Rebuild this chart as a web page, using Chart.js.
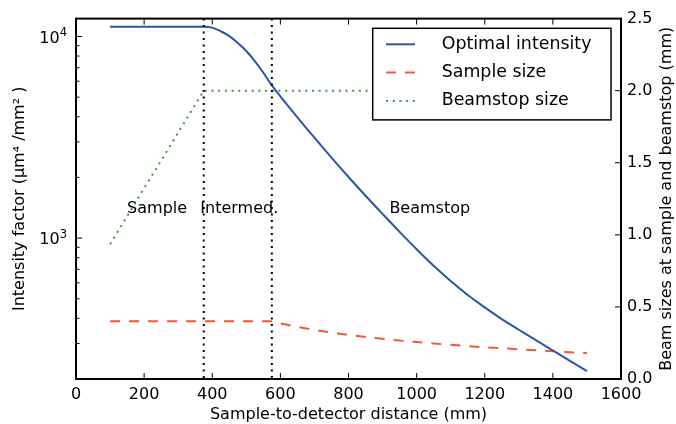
<!DOCTYPE html>
<html>
<head>
<meta charset="utf-8">
<script src="https://cdn.jsdelivr.net/npm/chart.js@4.4.0/dist/chart.umd.min.js"></script>
<style>
  html, body { margin: 0; padding: 0; background: #fff; }
  #wrap { width: 676px; height: 424px; }
</style>
</head>
<body>
<div id="wrap"><canvas id="chart" width="676" height="424"></canvas></div>
<script>
// ---------- Data ----------
const distances = [100, 150, 200, 250, 300, 350, 375, 400, 425, 450, 475, 500, 525, 550, 575, 600,
  650, 700, 750, 800, 850, 900, 950, 1000, 1050, 1100, 1150, 1200, 1250, 1300, 1350, 1400, 1450, 1500];
const intensity = [11170, 11170, 11170, 11170, 11170, 11170, 11170, 11066, 10617, 10046, 9290, 8472, 7551, 6607, 5728, 5047,
  3972, 3148, 2506, 2009, 1622, 1318, 1074, 881, 729, 612, 522, 453, 396, 351, 312, 277, 246, 219];
const sampleSize = [0.40, 0.40, 0.40, 0.40, 0.40, 0.40, 0.40, 0.40, 0.40, 0.40, 0.40, 0.40, 0.40, 0.40, 0.40, 0.386,
  0.362, 0.341, 0.322, 0.306, 0.292, 0.279, 0.267, 0.256, 0.246, 0.237, 0.228, 0.220, 0.213, 0.206, 0.199, 0.192, 0.186, 0.180];
const beamstopX = [100, 375, 1500];
const beamstopSize = [0.935, 2.0, 2.0];
const regionEdges = [375, 575];
const regionNames = ["Sample", "Intermed.", "Beamstop"];
const regionNameX = [150, 365, 920];
const regionNameLevel = 1.154; // on the right axis
const intensityTicks = [200, 300, 400, 500, 600, 700, 800, 900, 1000,
  2000, 3000, 4000, 5000, 6000, 7000, 8000, 9000, 10000];
const intensityLabels = { 1000: ["10", "3"], 10000: ["10", "4"] };

const FONT = "DejaVu Sans";
const BLUE = "#2b55a8", RED = "#ee5a36", GREEN = "#3f9a3f";

function pts(xs, ys) {
  return xs.map((x, i) => ({ x, y: ys[i] }));
}

// ---------- Extras: inward ticks, frame, guides, labels, legend ----------
const extras = {
  id: "extras",
  afterDatasetsDraw(chart) {
    const { ctx, chartArea: a, scales } = chart;
    const x = scales.x, yl = scales.y, yr = scales.y2;
    ctx.save();

    // region boundaries
    ctx.strokeStyle = "#000";
    ctx.lineWidth = 2;
    ctx.setLineDash([2, 4.5]);
    regionEdges.forEach((v) => {
      const px = x.getPixelForValue(v);
      ctx.beginPath();
      ctx.moveTo(px, a.top);
      ctx.lineTo(px, a.bottom);
      ctx.stroke();
    });
    ctx.setLineDash([]);

    // region names
    ctx.fillStyle = "#000";
    ctx.font = "16px '" + FONT + "'";
    ctx.textAlign = "left";
    ctx.textBaseline = "alphabetic";
    regionNames.forEach((t, i) => {
      ctx.fillText(t, x.getPixelForValue(regionNameX[i]), yr.getPixelForValue(regionNameLevel));
    });

    // log-axis labels as 10 with a raised exponent
    yl.ticks.forEach((t) => {
      const lab = intensityLabels[t.value];
      if (!lab) return;
      const py = yl.getPixelForValue(t.value);
      const right = a.left - 9;
      ctx.font = "11.5px '" + FONT + "'";
      const ew = ctx.measureText(lab[1]).width;
      ctx.textAlign = "right";
      ctx.fillText(lab[1], right, py - 0.5);
      ctx.font = "16px '" + FONT + "'";
      ctx.fillText(lab[0], right - ew, py + 6);
    });
    ctx.textAlign = "left";

    // inward tick marks
    ctx.lineWidth = 1;
    ctx.beginPath();
    x.ticks.forEach((t) => {
      const px = x.getPixelForValue(t.value);
      ctx.moveTo(px, a.bottom); ctx.lineTo(px, a.bottom - 6);
      ctx.moveTo(px, a.top); ctx.lineTo(px, a.top + 6);
    });
    yl.ticks.forEach((t) => {
      const py = yl.getPixelForValue(t.value);
      const len = intensityLabels[t.value] ? 6 : 3.5;
      ctx.moveTo(a.left, py); ctx.lineTo(a.left + len, py);
    });
    yr.ticks.forEach((t) => {
      const py = yr.getPixelForValue(t.value);
      ctx.moveTo(a.right, py); ctx.lineTo(a.right - 6, py);
    });
    ctx.stroke();

    // frame
    ctx.lineWidth = 2;
    ctx.strokeRect(a.left, a.top, a.right - a.left, a.bottom - a.top);

    // right axis title (reads bottom to top)
    ctx.save();
    ctx.translate(667, (a.top + a.bottom) / 2);
    ctx.rotate(-Math.PI / 2);
    ctx.textAlign = "center";
    ctx.textBaseline = "middle";
    ctx.font = "16px '" + FONT + "'";
    ctx.fillText("Beam sizes at sample and beamstop (mm)", 0, 0);
    ctx.restore();

    // legend (upper right)
    const bx = a.right - 248.3, by = a.top + 9.7, bw = 238.3, bh = 91.6;
    ctx.fillStyle = "#fff";
    ctx.fillRect(bx, by, bw, bh);
    ctx.strokeStyle = "#000";
    ctx.lineWidth = 1.5;
    ctx.strokeRect(bx, by, bw, bh);
    ctx.font = "17.4px '" + FONT + "'";
    ctx.textBaseline = "middle";
    chart.data.datasets.forEach((ds, i) => {
      const cy = by + 16 + i * 28.3;
      ctx.strokeStyle = ds.borderColor;
      ctx.lineWidth = ds.borderWidth;
      ctx.setLineDash(ds.borderDash || []);
      ctx.beginPath();
      ctx.moveTo(bx + 13.3, cy);
      ctx.lineTo(bx + 42.3, cy);
      ctx.stroke();
      ctx.setLineDash([]);
      ctx.fillStyle = "#000";
      ctx.fillText(ds.label, bx + 69, cy);
    });
    ctx.restore();
  },
};

new Chart(document.getElementById("chart"), {
  type: "line",
  data: {
    datasets: [
      {
        label: "Optimal intensity",
        data: pts(distances, intensity),
        yAxisID: "y",
        borderColor: BLUE,
        borderWidth: 2,
        cubicInterpolationMode: "monotone",
      },
      {
        label: "Sample size",
        data: pts(distances, sampleSize),
        yAxisID: "y2",
        borderColor: RED,
        borderWidth: 2,
        borderDash: [10, 9],
      },
      {
        label: "Beamstop size",
        data: pts(beamstopX, beamstopSize),
        yAxisID: "y2",
        borderColor: GREEN,
        borderWidth: 2,
        borderDash: [2, 4.7],
      },
    ],
  },
  options: {
    responsive: false,
    animation: false,
    events: [],
    elements: { point: { radius: 0 } },
    layout: { padding: { top: 16, left: 0, right: 0, bottom: 0 } },
    plugins: { legend: { display: false }, tooltip: { enabled: false } },
    scales: {
      x: {
        type: "linear",
        min: 0,
        max: 1600,
        grid: { display: false, drawTicks: false },
        border: { display: false },
        ticks: {
          stepSize: 200,
          autoSkip: false,
          maxRotation: 0,
          padding: 6,
          color: "#000",
          font: { family: FONT, size: 16 },
          callback: (v) => String(v),
        },
        title: {
          display: true,
          text: "Sample-to-detector distance (mm)",
          color: "#000",
          font: { family: FONT, size: 16 },
          padding: { top: 0, bottom: 0 },
        },
        afterFit(s) { s.height = 45; },
      },
      y: {
        type: "logarithmic",
        position: "left",
        min: 200,
        max: 12270,
        grid: { display: false, drawTicks: false },
        border: { display: false },
        afterBuildTicks(s) { s.ticks = intensityTicks.map((v) => ({ value: v })); },
        ticks: {
          autoSkip: false,
          padding: 9,
          color: "#000",
          font: { family: FONT, size: 16 },
          callback: () => "",
        },
        title: {
          display: true,
          text: "Intensity factor (μm⁴ /mm² )",
          color: "#000",
          font: { family: FONT, size: 16 },
          padding: { top: 10.6, bottom: 0 },
        },
        afterFit(s) { s.width = 76; },
      },
      y2: {
        type: "linear",
        position: "right",
        min: 0,
        max: 2.5,
        grid: { display: false, drawTicks: false },
        border: { display: false },
        ticks: {
          stepSize: 0.5,
          autoSkip: false,
          padding: 6,
          color: "#000",
          font: { family: FONT, size: 16 },
          callback: (v) => v.toFixed(1),
        },
        afterFit(s) { s.width = 55; },
      },
    },
  },
  plugins: [extras],
});
</script>
</body>
</html>
